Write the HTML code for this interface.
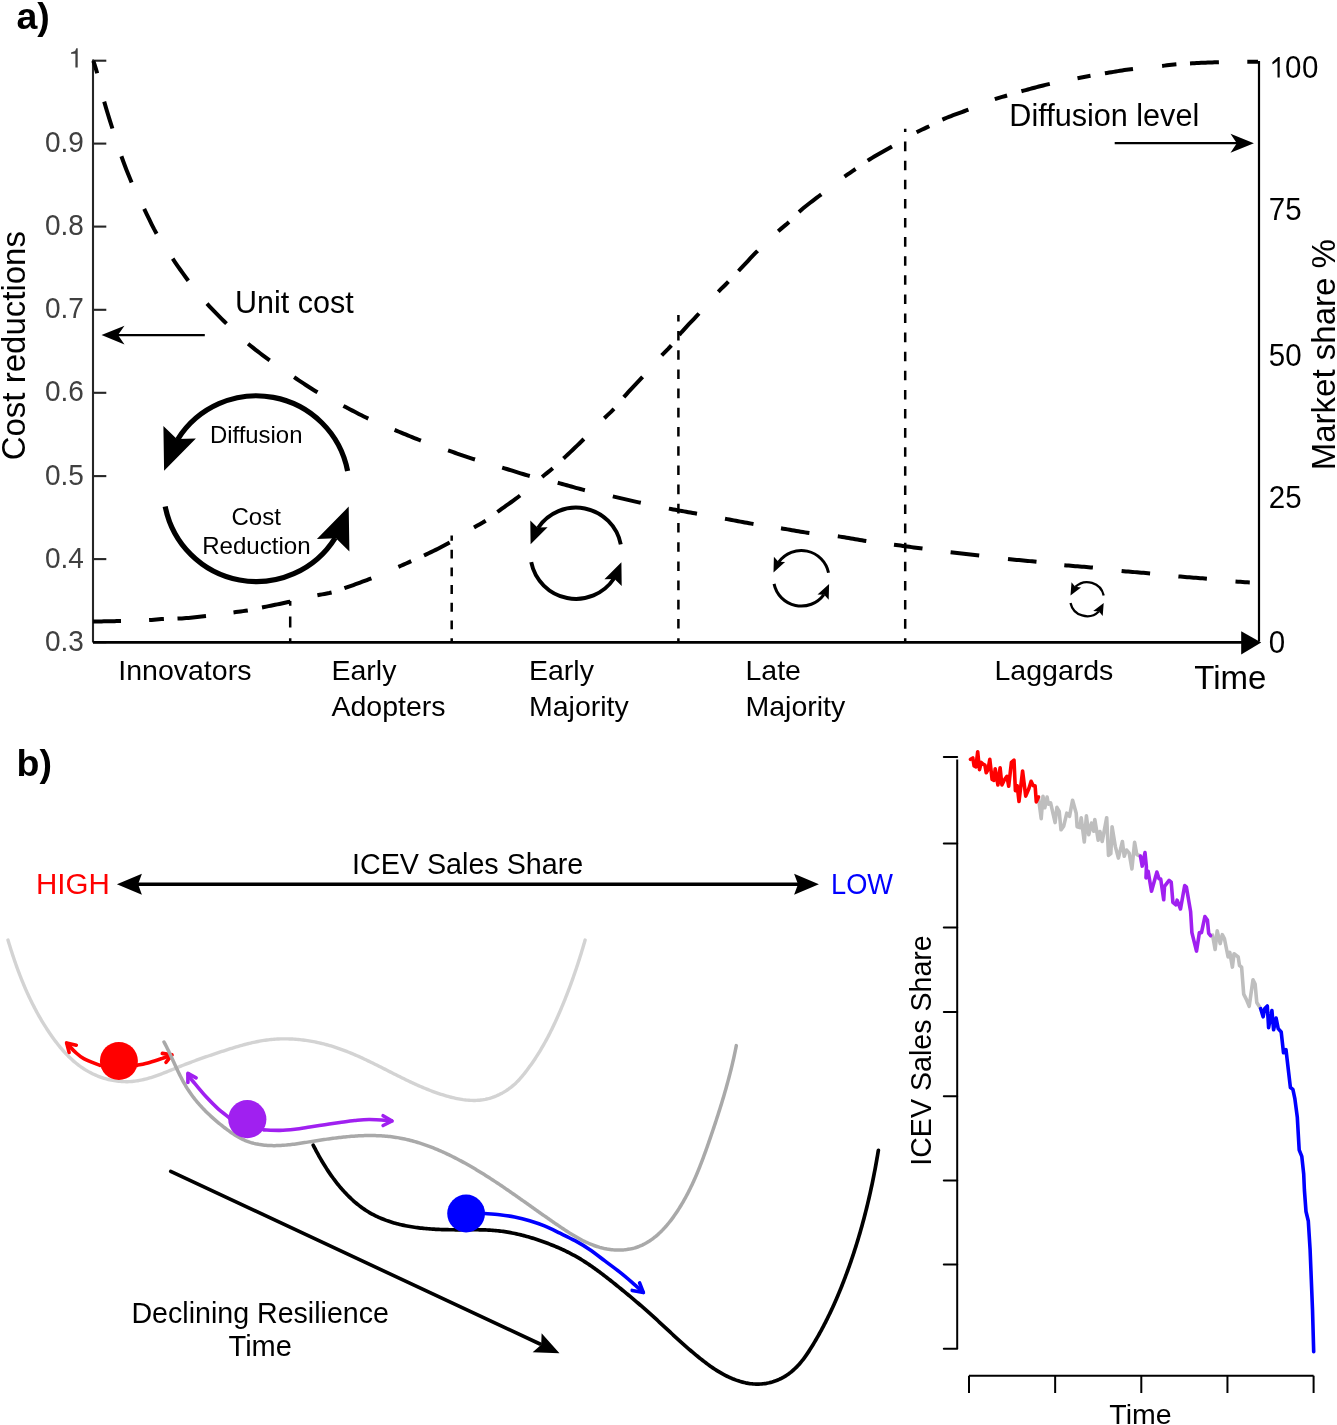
<!DOCTYPE html>
<html><head><meta charset="utf-8"><style>
html,body{margin:0;padding:0;background:#fff;}
svg{display:block;will-change:transform;}
text{font-family:"Liberation Sans",sans-serif;}
</style></head><body>
<svg width="1337" height="1425" viewBox="0 0 1337 1425">
<rect width="1337" height="1425" fill="#fff"/>
<text x="16.5" y="28.6" font-size="37.5" fill="#000" text-anchor="start" font-weight="bold" >a)</text>
<line x1="93" y1="59.6" x2="93" y2="642.4" stroke="#262626" stroke-width="2.1"/>
<line x1="93" y1="60.7" x2="106.3" y2="60.7" stroke="#262626" stroke-width="2.1"/>
<path d="M71 52.4 L75.1 51 L76.3 48.3 L77.7 48.3 L77.7 67.6 L75.4 67.6 L75.4 53.7 L71 53.7 Z" fill="#404040"/>
<line x1="93" y1="143.6" x2="106.3" y2="143.6" stroke="#262626" stroke-width="2.1"/>
<text x="0" y="0" font-size="28" fill="#404040" text-anchor="end" transform="translate(83.8 152.2) scale(1 1.07)">0.9</text>
<line x1="93" y1="226.6" x2="106.3" y2="226.6" stroke="#262626" stroke-width="2.1"/>
<text x="0" y="0" font-size="28" fill="#404040" text-anchor="end" transform="translate(83.8 235.2) scale(1 1.07)">0.8</text>
<line x1="93" y1="309.8" x2="106.3" y2="309.8" stroke="#262626" stroke-width="2.1"/>
<text x="0" y="0" font-size="28" fill="#404040" text-anchor="end" transform="translate(83.8 318.4) scale(1 1.07)">0.7</text>
<line x1="93" y1="392.8" x2="106.3" y2="392.8" stroke="#262626" stroke-width="2.1"/>
<text x="0" y="0" font-size="28" fill="#404040" text-anchor="end" transform="translate(83.8 401.4) scale(1 1.07)">0.6</text>
<line x1="93" y1="476.1" x2="106.3" y2="476.1" stroke="#262626" stroke-width="2.1"/>
<text x="0" y="0" font-size="28" fill="#404040" text-anchor="end" transform="translate(83.8 484.7) scale(1 1.07)">0.5</text>
<line x1="93" y1="559.1" x2="106.3" y2="559.1" stroke="#262626" stroke-width="2.1"/>
<text x="0" y="0" font-size="28" fill="#404040" text-anchor="end" transform="translate(83.8 567.7) scale(1 1.07)">0.4</text>
<line x1="93" y1="642.2" x2="106.3" y2="642.2" stroke="#262626" stroke-width="2.1"/>
<text x="0" y="0" font-size="28" fill="#404040" text-anchor="end" transform="translate(83.8 650.8) scale(1 1.07)">0.3</text>
<line x1="1259" y1="61" x2="1259" y2="641.5" stroke="#000" stroke-width="2.2"/>
<path d="M1272.3 62.3 L1278.3 56.9 L1279.7 56.9 L1279.7 77.5 L1277.5 77.5 L1277.5 61 L1272.6 64.6 Z" fill="#000"/>
<text x="0" y="0" font-size="29.5" fill="#000" text-anchor="start" letter-spacing="0.6" transform="translate(1284.9 77.6) scale(1 1.05)">00</text>
<text x="0" y="0" font-size="29.5" fill="#000" text-anchor="start" transform="translate(1268.8 219.9) scale(1 1.05)">75</text>
<text x="0" y="0" font-size="29.5" fill="#000" text-anchor="start" transform="translate(1268.8 366.3) scale(1 1.05)">50</text>
<text x="0" y="0" font-size="29.5" fill="#000" text-anchor="start" transform="translate(1268.8 508.2) scale(1 1.05)">25</text>
<text x="0" y="0" font-size="29.5" fill="#000" text-anchor="start" transform="translate(1268.8 652.9) scale(1 1.05)">0</text>
<line x1="93" y1="642.4" x2="1245" y2="642.4" stroke="#000" stroke-width="2.7"/>
<path d="M1241.2 631.2 L1261.2 642.4 L1241.2 654.5 Z" fill="#000"/>
<text x="1194.3" y="689" font-size="33" fill="#000" text-anchor="start" >Time</text>
<text x="118.3" y="679.8" font-size="28.5" fill="#000" text-anchor="start" >Innovators</text>
<text x="331.5" y="679.8" font-size="28.5" fill="#000" text-anchor="start" >Early</text>
<text x="331.5" y="716.3" font-size="28.5" fill="#000" text-anchor="start" >Adopters</text>
<text x="529" y="679.8" font-size="28.5" fill="#000" text-anchor="start" >Early</text>
<text x="529" y="716.3" font-size="28.5" fill="#000" text-anchor="start" >Majority</text>
<text x="745.5" y="679.8" font-size="28.5" fill="#000" text-anchor="start" >Late</text>
<text x="745.5" y="716.3" font-size="28.5" fill="#000" text-anchor="start" >Majority</text>
<text x="994.5" y="679.8" font-size="28.5" fill="#000" text-anchor="start" >Laggards</text>
<line x1="290.2" y1="642.4" x2="290.2" y2="601.1" stroke="#000" stroke-width="2.5" stroke-dasharray="10.8 10.8" stroke-dashoffset="6.6"/>
<line x1="451.7" y1="642.4" x2="451.7" y2="535.4" stroke="#000" stroke-width="2.5" stroke-dasharray="8.85 8.85" stroke-dashoffset="4.65"/>
<line x1="678.4" y1="642.4" x2="678.4" y2="315" stroke="#000" stroke-width="2.5" stroke-dasharray="9.6 9.6" stroke-dashoffset="5.4"/>
<line x1="905.2" y1="642.4" x2="905.2" y2="128.7" stroke="#000" stroke-width="2.5" stroke-dasharray="9.55 9.55" stroke-dashoffset="5.35"/>
<path d="M93.3 60.8 L94.6 64.65 L95.9 68.78 L97.2 73.2 M104.2 101.6 L106.93 111.06 L109.67 119.88 L112.4 128.5 M121.4 156.2 L123.95 163.21 L126.5 169.92 L129.05 176.32 L131.6 182.4 M144.2 208.9 L146.68 214.04 L149.16 219.2 L151.64 224.27 L154.12 229.14 L156.6 233.7 M172.7 258.7 L175.3 262.52 L177.9 266.3 L180.5 270.02 L183.1 273.67 L185.7 277.23 L188.3 280.7 M207 303.6 L209.44 306.28 L211.88 308.9 L214.31 311.45 L216.75 313.94 L219.19 316.4 L221.62 318.82 L224.06 321.22 L226.5 323.6 M248.1 343.7 L250.5 345.7 L252.9 347.65 L255.3 349.57 L257.7 351.44 L260.1 353.28 L262.5 355.09 L264.9 356.88 L267.3 358.64 L269.7 360.4 M294.1 377.2 L296.44 378.76 L298.78 380.33 L301.12 381.9 L303.46 383.46 L305.8 385 L308.14 386.53 L310.48 388.03 L312.82 389.49 L315.16 390.92 L317.5 392.3 M343.4 405.9 L345.66 407.08 L347.93 408.26 L350.19 409.45 L352.45 410.64 L354.72 411.82 L356.98 412.99 L359.25 414.16 L361.51 415.3 L363.77 416.43 L366.04 417.53 L368.3 418.6 M394.6 429.9 L396.79 430.82 L398.98 431.73 L401.18 432.65 L403.37 433.56 L405.56 434.47 L407.75 435.37 L409.94 436.26 L412.13 437.15 L414.32 438.03 L416.52 438.9 L418.71 439.76 L420.9 440.6 M448.1 450.4 L450.34 451.18 L452.58 451.96 L454.83 452.74 L457.07 453.52 L459.31 454.29 L461.55 455.06 L463.79 455.82 L466.03 456.57 L468.27 457.32 L470.52 458.06 L472.76 458.78 L475 459.5 M502.2 467.6 L504.5 468.3 L506.8 469.01 L509.1 469.73 L511.4 470.46 L513.7 471.18 L516 471.9 L518.3 472.62 L520.6 473.33 L522.9 474.03 L525.2 474.71 L527.5 475.36 L529.8 476 M557.7 482.8 L559.97 483.39 L562.23 484 L564.5 484.63 L566.77 485.26 L569.03 485.9 L571.3 486.54 L573.57 487.18 L575.83 487.81 L578.1 488.44 L580.37 489.04 L582.63 489.63 L584.9 490.2 M612.8 496.4 L614.95 496.89 L617.11 497.38 L619.26 497.88 L621.42 498.38 L623.57 498.88 L625.72 499.38 L627.88 499.88 L630.03 500.38 L632.18 500.87 L634.34 501.36 L636.49 501.85 L638.65 502.33 L640.8 502.8 M668.9 508.6 L671.06 509.01 L673.22 509.42 L675.38 509.82 L677.55 510.22 L679.71 510.61 L681.87 511 L684.03 511.39 L686.19 511.77 L688.35 512.16 L690.52 512.54 L692.68 512.93 L694.84 513.31 L697 513.7 M725 518.7 L727.19 519.1 L729.38 519.51 L731.58 519.93 L733.77 520.35 L735.96 520.76 L738.15 521.18 L740.35 521.6 L742.54 522.02 L744.73 522.43 L746.92 522.84 L749.12 523.23 L751.31 523.62 L753.5 524 M781 528.3 L783.18 528.66 L785.37 529.02 L787.55 529.4 L789.74 529.78 L791.92 530.16 L794.11 530.55 L796.29 530.93 L798.48 531.3 L800.66 531.67 L802.85 532.02 L805.03 532.36 L807.22 532.69 L809.4 533 M837.8 536.3 L839.99 536.61 L842.18 536.94 L844.38 537.29 L846.57 537.66 L848.76 538.03 L850.95 538.42 L853.15 538.8 L855.34 539.19 L857.53 539.57 L859.72 539.95 L861.92 540.32 L864.11 540.67 L866.3 541 M894 544.7 L896.19 545 L898.38 545.3 L900.58 545.6 L902.77 545.9 L904.96 546.2 L907.15 546.51 L909.35 546.81 L911.54 547.11 L913.73 547.42 L915.92 547.72 L918.12 548.01 L920.31 548.31 L922.5 548.6 M950.6 552.2 L952.8 552.46 L955 552.71 L957.2 552.96 L959.4 553.21 L961.6 553.45 L963.8 553.69 L966 553.92 L968.2 554.16 L970.4 554.4 L972.6 554.65 L974.8 554.89 L977 555.14 L979.2 555.4 M1008 559 L1010.19 559.24 L1012.38 559.46 L1014.58 559.68 L1016.77 559.89 L1018.96 560.1 L1021.15 560.3 L1023.35 560.51 L1025.54 560.71 L1027.73 560.92 L1029.92 561.13 L1032.12 561.34 L1034.31 561.57 L1036.5 561.8 M1064.3 565.2 L1066.5 565.41 L1068.7 565.61 L1070.9 565.8 L1073.1 565.98 L1075.3 566.15 L1077.5 566.32 L1079.7 566.49 L1081.9 566.66 L1084.1 566.83 L1086.3 567.01 L1088.5 567.19 L1090.7 567.39 L1092.9 567.6 M1121.6 571 L1123.79 571.21 L1125.98 571.41 L1128.18 571.6 L1130.37 571.78 L1132.56 571.96 L1134.75 572.13 L1136.95 572.3 L1139.14 572.47 L1141.33 572.65 L1143.52 572.83 L1145.72 573.01 L1147.91 573.2 L1150.1 573.4 M1178.4 576.4 L1180.59 576.6 L1182.78 576.78 L1184.98 576.96 L1187.17 577.14 L1189.36 577.31 L1191.55 577.48 L1193.75 577.64 L1195.94 577.81 L1198.13 577.98 L1200.32 578.15 L1202.52 578.33 L1204.71 578.51 L1206.9 578.7 M1235.5 581.5 L1237.88 581.67 L1240.27 581.84 L1242.65 581.99 L1245.03 582.14 L1247.42 582.27 L1249.8 582.4" fill="none" stroke="#000" stroke-width="4" stroke-linecap="butt" stroke-linejoin="round"/>
<path d="M93 621.5 L95.15 621.48 L97.31 621.45 L99.46 621.42 L101.62 621.38 L103.77 621.35 L105.92 621.31 L108.08 621.27 L110.23 621.23 L112.38 621.19 L114.54 621.14 L116.69 621.1 L118.85 621.05 L121 621 M149.1 620.1 L151.57 619.94 L154.03 619.72 L156.5 619.47 L158.97 619.23 L161.43 619.03 L163.9 618.9 M177.5 618.6 L179.69 618.51 L181.88 618.4 L184.08 618.26 L186.27 618.1 L188.46 617.91 L190.65 617.72 L192.85 617.5 L195.04 617.28 L197.23 617.05 L199.42 616.81 L201.62 616.57 L203.81 616.34 L206 616.1 M233.5 612.4 L235.88 612.08 L238.27 611.77 L240.65 611.45 L243.03 611.12 L245.42 610.78 L247.8 610.4 M262 607.5 L264.18 607.05 L266.37 606.61 L268.55 606.16 L270.74 605.72 L272.92 605.27 L275.11 604.82 L277.29 604.38 L279.48 603.92 L281.66 603.47 L283.85 603.01 L286.03 602.55 L288.22 602.08 L290.4 601.6 M317.4 595.3 L319.77 594.83 L322.13 594.39 L324.5 593.97 L326.87 593.53 L329.23 593.05 L331.6 592.5 M344.4 588.2 L346.65 587.41 L348.9 586.62 L351.15 585.83 L353.4 585.02 L355.65 584.21 L357.9 583.4 L360.15 582.57 L362.4 581.74 L364.65 580.9 L366.9 580.04 L369.15 579.18 L371.4 578.3 M398.4 566.9 L400.96 565.78 L403.52 564.64 L406.08 563.49 L408.64 562.34 L411.2 561.2 M424 555.5 L426.34 554.4 L428.67 553.28 L431.01 552.16 L433.35 551.02 L435.68 549.86 L438.02 548.69 L440.35 547.5 L442.69 546.28 L445.03 545.05 L447.36 543.79 L449.7 542.5 M474 527.5 L476.93 525.81 L479.85 524.18 L482.77 522.51 L485.7 520.7 M497.4 512 L499.67 510.34 L501.94 508.71 L504.21 507.1 L506.48 505.49 L508.75 503.87 L511.02 502.25 L513.29 500.61 L515.56 498.95 L517.83 497.25 L520.1 495.5 M542.1 477 L544.77 474.81 L547.45 472.64 L550.12 470.46 L552.8 468.2 M563.5 458.5 L565.77 456.39 L568.03 454.27 L570.3 452.13 L572.57 449.98 L574.83 447.82 L577.1 445.64 L579.37 443.44 L581.63 441.23 L583.9 439 M604.3 418.2 L607.53 415.14 L610.77 412.13 L614 408.9 M623.8 397.2 L626.15 394.55 L628.5 391.96 L630.85 389.42 L633.2 386.91 L635.55 384.4 L637.9 381.9 L640.25 379.37 L642.6 376.8 M661.7 355.4 L664.93 352.08 L668.17 348.83 L671.4 345.3 M679.2 335 L681.68 332.08 L684.15 329.3 L686.62 326.61 L689.1 323.99 L691.58 321.4 L694.05 318.81 L696.52 316.19 L699 313.5 M718.3 291.8 L720.82 289.21 L723.35 286.72 L725.88 284.24 L728.4 281.7 M738.5 271 L740.89 268.46 L743.27 265.9 L745.66 263.33 L748.05 260.77 L750.44 258.22 L752.83 255.7 L755.21 253.22 L757.6 250.8 M778.2 231.2 L780.9 228.87 L783.6 226.64 L786.3 224.39 L789 222 M799 211.9 L801.23 209.94 L803.46 208.05 L805.69 206.23 L807.92 204.47 L810.15 202.75 L812.38 201.05 L814.61 199.37 L816.84 197.7 L819.07 196.01 L821.3 194.3 M844.5 176.7 L847.27 174.73 L850.05 172.81 L852.83 170.91 L855.6 169 M867.7 160.6 L869.91 159.21 L872.12 157.85 L874.33 156.52 L876.54 155.22 L878.75 153.94 L880.95 152.68 L883.16 151.43 L885.37 150.18 L887.58 148.93 L889.79 147.67 L892 146.4 M916.6 132.3 L919.14 131.02 L921.68 129.81 L924.22 128.62 L926.76 127.42 L929.3 126.2 M942.4 119.6 L944.57 118.66 L946.73 117.76 L948.9 116.89 L951.07 116.05 L953.23 115.23 L955.4 114.43 L957.57 113.63 L959.73 112.84 L961.9 112.05 L964.07 111.25 L966.23 110.43 L968.4 109.6 M994.8 99.2 L997.26 98.4 L999.72 97.65 L1002.18 96.93 L1004.64 96.22 L1007.1 95.5 M1021.4 91.3 L1023.58 90.69 L1025.77 90.09 L1027.95 89.49 L1030.14 88.89 L1032.32 88.3 L1034.51 87.71 L1036.69 87.13 L1038.88 86.56 L1041.06 86.01 L1043.25 85.46 L1045.43 84.93 L1047.62 84.41 L1049.8 83.9 M1077.5 78.3 L1080.1 77.79 L1082.7 77.28 L1085.3 76.78 L1087.9 76.28 L1090.5 75.8 M1104.9 73.3 L1107.06 72.94 L1109.22 72.58 L1111.38 72.21 L1113.55 71.85 L1115.71 71.49 L1117.87 71.13 L1120.03 70.78 L1122.19 70.44 L1124.35 70.1 L1126.52 69.78 L1128.68 69.47 L1130.84 69.18 L1133 68.9 M1162.1 65.9 L1164.48 65.62 L1166.87 65.31 L1169.25 64.99 L1171.63 64.69 L1174.02 64.42 L1176.4 64.2 M1190 63.4 L1192.22 63.29 L1194.45 63.18 L1196.67 63.07 L1198.89 62.96 L1201.12 62.86 L1203.34 62.76 L1205.56 62.66 L1207.78 62.57 L1210.01 62.48 L1212.23 62.4 L1214.45 62.33 L1216.68 62.26 L1218.9 62.2 M1247.3 61.7 L1249.97 61.7 L1252.65 61.7 L1255.33 61.7 L1258 61.7" fill="none" stroke="#000" stroke-width="4" stroke-linecap="butt" stroke-linejoin="round"/>
<text x="235" y="313.3" font-size="30.5" fill="#000" text-anchor="start" >Unit cost</text>
<line x1="204.8" y1="335.1" x2="115" y2="335.1" stroke="#000" stroke-width="2.2"/>
<path d="M101.5 335.1 L124.5 325.7 L118 335.1 L124.5 344.5 Z" fill="#000"/>
<text x="1009.3" y="125.9" font-size="30.6" fill="#000" text-anchor="start" >Diffusion level</text>
<line x1="1114.7" y1="143.2" x2="1240" y2="143.2" stroke="#000" stroke-width="2.2"/>
<path d="M1253.9 143.2 L1230.5 152.7 L1236.8 143.2 L1230.5 133.7 Z" fill="#000"/>
<g><path d="M347.6 471.01 A92.9 92.9 0 0 0 177.57 439.55" fill="none" stroke="#000" stroke-width="5.2"/><path d="M164.1 470.8 L163.4 425.9 L176.85 439.11 L195.9 438.4 Z" fill="#000"/></g><g transform="rotate(180 256.4 488.7)"><path d="M347.6 471.01 A92.9 92.9 0 0 0 177.57 439.55" fill="none" stroke="#000" stroke-width="5.2"/><path d="M164.1 470.8 L163.4 425.9 L176.85 439.11 L195.9 438.4 Z" fill="#000"/></g>
<text x="256.2" y="442.8" font-size="23.9" fill="#000" text-anchor="middle" >Diffusion</text>
<text x="256.2" y="525.3" font-size="24" fill="#000" text-anchor="middle" >Cost</text>
<text x="256.4" y="553.5" font-size="24.1" fill="#000" text-anchor="middle" >Reduction</text>
<g><path d="M620.77 544.33 A45.65 45.65 0 0 0 538 527.96" fill="none" stroke="#000" stroke-width="3.9"/><path d="M530.6 544.2 L530.3 520.6 L537.45 527.6 L547.6 527.3 Z" fill="#000"/></g><g transform="rotate(180 576 553.25)"><path d="M620.77 544.33 A45.65 45.65 0 0 0 538 527.96" fill="none" stroke="#000" stroke-width="3.9"/><path d="M530.6 544.2 L530.3 520.6 L537.45 527.6 L547.6 527.3 Z" fill="#000"/></g>
<g><path d="M828.53 572.72 A27.8 27.8 0 0 0 778.74 562.05" fill="none" stroke="#000" stroke-width="3"/><path d="M773.5 572.6 L773.9 556.8 L778.42 561.82 L785.1 562.1 Z" fill="#000"/></g><g transform="rotate(180 801.3 578.3)"><path d="M828.53 572.72 A27.8 27.8 0 0 0 778.74 562.05" fill="none" stroke="#000" stroke-width="3"/><path d="M773.5 572.6 L773.9 556.8 L778.42 561.82 L785.1 562.1 Z" fill="#000"/></g>
<g><path d="M1103.69 595.5 A17 17 0 0 0 1075.33 586.93" fill="none" stroke="#000" stroke-width="2.3"/><path d="M1070.5 595.5 L1071.5 582.3 L1075.21 586.81 L1081 587.5 Z" fill="#000"/></g><g transform="rotate(180 1087.1 599.2)"><path d="M1103.69 595.5 A17 17 0 0 0 1075.33 586.93" fill="none" stroke="#000" stroke-width="2.3"/><path d="M1070.5 595.5 L1071.5 582.3 L1075.21 586.81 L1081 587.5 Z" fill="#000"/></g>
<text x="0" y="0" font-size="33" fill="#000" text-anchor="middle" transform="translate(24.5 345.7) rotate(-90)">Cost reductions</text>
<text x="0" y="0" font-size="33" fill="#000" text-anchor="middle" transform="translate(1335 354.7) rotate(-90)">Market share %</text>
<text x="16.5" y="775.9" font-size="37.5" fill="#000" text-anchor="start" font-weight="bold" >b)</text>
<text x="36" y="894.1" font-size="29.5" fill="#ff0000" text-anchor="start" >HIGH</text>
<text x="831" y="894" font-size="29.5" fill="#0000ff" text-anchor="start" textLength="62" lengthAdjust="spacingAndGlyphs">LOW</text>
<text x="352" y="873.5" font-size="28.7" fill="#000" text-anchor="start" >ICEV Sales Share</text>
<line x1="136" y1="884.2" x2="800" y2="884.2" stroke="#000" stroke-width="3.4"/>
<path d="M116.9 884.3 L141.9 873.85 L138.1 884.3 L141.9 894.75 Z" fill="#000"/>
<path d="M818.9 884.2 L794.1 894.7 L798 884.2 L794.1 873.7 Z" fill="#000"/>
<path d="M7.97 940.01 L8.41 941.46 L8.85 942.92 L9.29 944.37 L9.74 945.82 L10.19 947.26 L10.65 948.71 L11.11 950.15 L11.57 951.59 L12.03 953.03 L12.51 954.47 L12.98 955.9 L13.46 957.33 L13.94 958.76 L14.43 960.19 L14.92 961.62 L15.42 963.04 L15.92 964.46 L16.42 965.88 L16.94 967.3 L17.45 968.71 L17.97 970.12 L18.5 971.53 L19.03 972.94 L19.56 974.34 L20.1 975.74 L20.65 977.14 L21.2 978.53 L21.76 979.93 L22.32 981.32 L22.89 982.7 L23.46 984.09 L24.05 985.47 L24.63 986.85 L25.22 988.22 L25.82 989.6 L26.43 990.97 L27.04 992.33 L27.65 993.7 L28.28 995.06 L28.91 996.41 L29.55 997.77 L30.19 999.12 L30.84 1000.47 L31.5 1001.81 L32.16 1003.15 L32.83 1004.49 L33.51 1005.82 L34.2 1007.15 L34.89 1008.48 L35.59 1009.8 L36.3 1011.12 L37.01 1012.44 L37.73 1013.75 L38.47 1015.06 L39.2 1016.36 L39.95 1017.66 L40.7 1018.96 L41.47 1020.26 L42.24 1021.55 L43.02 1022.83 L43.8 1024.11 L44.6 1025.39 L45.4 1026.66 L46.21 1027.93 L47.04 1029.2 L47.87 1030.46 L48.7 1031.72 L49.55 1032.97 L50.41 1034.22 L51.27 1035.47 L52.15 1036.71 L53.03 1037.94 L53.93 1039.17 L54.83 1040.39 L55.74 1041.61 L56.67 1042.81 L57.6 1044.01 L58.55 1045.2 L59.51 1046.38 L60.47 1047.56 L61.45 1048.72 L62.44 1049.86 L63.45 1051 L64.46 1052.13 L65.49 1053.24 L66.53 1054.34 L67.58 1055.42 L68.64 1056.49 L69.72 1057.55 L70.81 1058.59 L71.91 1059.61 L73.03 1060.61 L74.16 1061.6 L75.31 1062.57 L76.47 1063.52 L77.64 1064.45 L78.83 1065.36 L80.04 1066.26 L81.26 1067.13 L82.49 1067.97 L83.74 1068.8 L85.01 1069.6 L86.29 1070.38 L87.59 1071.14 L88.9 1071.87 L90.22 1072.58 L91.56 1073.27 L92.91 1073.93 L94.27 1074.56 L95.64 1075.17 L97.03 1075.76 L98.42 1076.32 L99.82 1076.85 L101.24 1077.36 L102.66 1077.84 L104.09 1078.29 L105.53 1078.72 L106.97 1079.12 L108.42 1079.49 L109.88 1079.83 L111.34 1080.15 L112.8 1080.43 L114.27 1080.69 L115.75 1080.92 L117.23 1081.12 L118.71 1081.29 L120.19 1081.43 L121.67 1081.54 L123.15 1081.62 L124.64 1081.67 L126.12 1081.69 L127.61 1081.68 L129.09 1081.63 L130.57 1081.56 L132.05 1081.45 L133.52 1081.31 L134.99 1081.14 L136.46 1080.94 L137.93 1080.71 L139.39 1080.45 L140.85 1080.16 L142.31 1079.85 L143.76 1079.52 L145.22 1079.16 L146.67 1078.79 L148.12 1078.39 L149.56 1077.97 L151.01 1077.53 L152.45 1077.08 L153.89 1076.61 L155.33 1076.12 L156.76 1075.62 L158.2 1075.11 L159.63 1074.58 L161.06 1074.05 L162.49 1073.5 L163.91 1072.95 L165.34 1072.39 L166.76 1071.83 L168.19 1071.26 L169.61 1070.68 L171.03 1070.11 L172.44 1069.53 L173.86 1068.95 L175.27 1068.37 L176.69 1067.8 L178.1 1067.22 L179.51 1066.65 L180.93 1066.09 L182.34 1065.53 L183.74 1064.98 L185.15 1064.43 L186.56 1063.89 L187.97 1063.35 L189.38 1062.82 L190.78 1062.29 L192.19 1061.77 L193.59 1061.25 L195 1060.73 L196.41 1060.22 L197.81 1059.71 L199.22 1059.21 L200.63 1058.71 L202.03 1058.21 L203.44 1057.71 L204.85 1057.22 L206.26 1056.73 L207.67 1056.24 L209.08 1055.76 L210.49 1055.28 L211.9 1054.8 L213.32 1054.32 L214.73 1053.84 L216.15 1053.37 L217.57 1052.89 L218.99 1052.42 L220.41 1051.95 L221.83 1051.48 L223.26 1051.01 L224.68 1050.55 L226.11 1050.08 L227.54 1049.62 L228.97 1049.17 L230.41 1048.71 L231.84 1048.26 L233.28 1047.82 L234.72 1047.38 L236.16 1046.95 L237.6 1046.52 L239.04 1046.1 L240.49 1045.69 L241.94 1045.28 L243.39 1044.89 L244.84 1044.5 L246.3 1044.12 L247.75 1043.75 L249.21 1043.39 L250.67 1043.04 L252.14 1042.7 L253.6 1042.37 L255.07 1042.06 L256.54 1041.75 L258.01 1041.46 L259.48 1041.18 L260.95 1040.92 L262.43 1040.67 L263.91 1040.43 L265.39 1040.21 L266.88 1040.01 L268.36 1039.82 L269.85 1039.65 L271.34 1039.49 L272.84 1039.35 L274.33 1039.23 L275.83 1039.13 L277.33 1039.04 L278.83 1038.97 L280.33 1038.91 L281.83 1038.88 L283.34 1038.86 L284.84 1038.85 L286.35 1038.86 L287.86 1038.89 L289.37 1038.93 L290.87 1038.99 L292.38 1039.07 L293.89 1039.16 L295.4 1039.26 L296.9 1039.38 L298.41 1039.52 L299.91 1039.67 L301.42 1039.83 L302.92 1040.01 L304.43 1040.21 L305.93 1040.41 L307.43 1040.64 L308.92 1040.87 L310.42 1041.12 L311.91 1041.39 L313.4 1041.66 L314.89 1041.95 L316.38 1042.26 L317.86 1042.57 L319.34 1042.9 L320.82 1043.24 L322.29 1043.6 L323.76 1043.97 L325.23 1044.35 L326.69 1044.74 L328.15 1045.14 L329.6 1045.56 L331.05 1045.99 L332.5 1046.43 L333.94 1046.88 L335.37 1047.34 L336.8 1047.81 L338.23 1048.3 L339.65 1048.79 L341.06 1049.3 L342.48 1049.81 L343.88 1050.34 L345.29 1050.87 L346.69 1051.41 L348.08 1051.97 L349.47 1052.53 L350.86 1053.09 L352.25 1053.67 L353.63 1054.26 L355.01 1054.85 L356.38 1055.45 L357.75 1056.05 L359.12 1056.66 L360.49 1057.28 L361.85 1057.91 L363.21 1058.54 L364.57 1059.17 L365.93 1059.81 L367.28 1060.46 L368.63 1061.1 L369.98 1061.76 L371.33 1062.41 L372.68 1063.08 L374.03 1063.74 L375.37 1064.41 L376.71 1065.08 L378.06 1065.75 L379.4 1066.42 L380.74 1067.1 L382.08 1067.78 L383.42 1068.46 L384.76 1069.14 L386.09 1069.82 L387.43 1070.5 L388.77 1071.18 L390.11 1071.86 L391.45 1072.54 L392.79 1073.22 L394.13 1073.9 L395.47 1074.58 L396.81 1075.25 L398.15 1075.93 L399.5 1076.6 L400.84 1077.27 L402.19 1077.93 L403.53 1078.6 L404.88 1079.26 L406.23 1079.91 L407.59 1080.57 L408.94 1081.21 L410.3 1081.86 L411.65 1082.5 L413.02 1083.13 L414.38 1083.76 L415.75 1084.38 L417.11 1085 L418.49 1085.61 L419.86 1086.21 L421.24 1086.81 L422.62 1087.4 L424 1087.98 L425.39 1088.55 L426.78 1089.12 L428.18 1089.68 L429.58 1090.23 L430.98 1090.77 L432.39 1091.3 L433.8 1091.82 L435.22 1092.33 L436.64 1092.83 L438.06 1093.33 L439.49 1093.81 L440.93 1094.28 L442.37 1094.74 L443.82 1095.18 L445.27 1095.62 L446.72 1096.04 L448.19 1096.45 L449.65 1096.85 L451.12 1097.23 L452.6 1097.6 L454.08 1097.95 L455.57 1098.29 L457.05 1098.6 L458.54 1098.89 L460.03 1099.16 L461.53 1099.41 L463.02 1099.64 L464.52 1099.83 L466.01 1100.01 L467.51 1100.15 L469.01 1100.27 L470.5 1100.36 L471.99 1100.41 L473.48 1100.44 L474.97 1100.43 L476.46 1100.38 L477.94 1100.3 L479.42 1100.19 L480.89 1100.03 L482.37 1099.84 L483.83 1099.6 L485.29 1099.33 L486.74 1099.01 L488.19 1098.66 L489.63 1098.27 L491.06 1097.84 L492.48 1097.37 L493.88 1096.87 L495.28 1096.33 L496.67 1095.76 L498.04 1095.15 L499.4 1094.51 L500.74 1093.83 L502.07 1093.13 L503.39 1092.39 L504.68 1091.62 L505.96 1090.82 L507.22 1089.99 L508.47 1089.13 L509.69 1088.24 L510.89 1087.33 L512.07 1086.39 L513.22 1085.42 L514.36 1084.42 L515.47 1083.41 L516.55 1082.36 L517.62 1081.3 L518.66 1080.21 L519.68 1079.1 L520.68 1077.98 L521.67 1076.84 L522.63 1075.69 L523.59 1074.52 L524.53 1073.34 L525.46 1072.15 L526.38 1070.96 L527.29 1069.75 L528.19 1068.55 L529.09 1067.33 L529.97 1066.11 L530.85 1064.89 L531.72 1063.66 L532.58 1062.42 L533.43 1061.18 L534.27 1059.93 L535.11 1058.68 L535.94 1057.42 L536.75 1056.16 L537.56 1054.89 L538.36 1053.62 L539.16 1052.35 L539.94 1051.07 L540.71 1049.78 L541.48 1048.49 L542.24 1047.19 L542.99 1045.89 L543.73 1044.59 L544.47 1043.28 L545.2 1041.97 L545.92 1040.66 L546.63 1039.34 L547.34 1038.01 L548.04 1036.69 L548.73 1035.35 L549.42 1034.02 L550.1 1032.68 L550.77 1031.34 L551.44 1030 L552.1 1028.65 L552.75 1027.3 L553.4 1025.94 L554.05 1024.59 L554.68 1023.23 L555.32 1021.87 L555.94 1020.5 L556.57 1019.13 L557.18 1017.76 L557.79 1016.39 L558.4 1015.02 L559 1013.64 L559.6 1012.26 L560.2 1010.88 L560.79 1009.5 L561.37 1008.11 L561.95 1006.72 L562.53 1005.33 L563.1 1003.94 L563.67 1002.55 L564.24 1001.16 L564.8 999.76 L565.36 998.37 L565.91 996.97 L566.46 995.57 L567.01 994.17 L567.55 992.76 L568.09 991.36 L568.63 989.95 L569.16 988.54 L569.69 987.13 L570.21 985.72 L570.73 984.31 L571.25 982.9 L571.76 981.48 L572.27 980.07 L572.78 978.65 L573.28 977.23 L573.78 975.81 L574.27 974.39 L574.77 972.97 L575.25 971.55 L575.74 970.12 L576.22 968.7 L576.7 967.27 L577.17 965.85 L577.64 964.42 L578.11 962.99 L578.57 961.56 L579.03 960.13 L579.49 958.7 L579.94 957.26 L580.39 955.83 L580.84 954.4 L581.28 952.96 L581.72 951.53 L582.16 950.09 L582.59 948.65 L583.02 947.22 L583.45 945.78 L583.87 944.34 L584.29 942.9 L584.71 941.46 L585.12 940.02" fill="none" stroke="#d3d3d3" stroke-width="3.4" stroke-linecap="round" stroke-linejoin="round"/>
<path d="M313.25 1145.24 L313.93 1146.56 L314.62 1147.89 L315.31 1149.21 L316.01 1150.53 L316.71 1151.85 L317.42 1153.16 L318.14 1154.47 L318.86 1155.78 L319.6 1157.08 L320.34 1158.38 L321.09 1159.67 L321.84 1160.97 L322.61 1162.25 L323.38 1163.53 L324.16 1164.81 L324.95 1166.09 L325.75 1167.35 L326.56 1168.62 L327.37 1169.87 L328.2 1171.12 L329.04 1172.37 L329.88 1173.61 L330.74 1174.84 L331.61 1176.07 L332.49 1177.29 L333.38 1178.51 L334.28 1179.71 L335.19 1180.92 L336.11 1182.11 L337.04 1183.29 L337.99 1184.47 L338.95 1185.64 L339.92 1186.81 L340.9 1187.96 L341.9 1189.11 L342.91 1190.24 L343.93 1191.37 L344.96 1192.49 L346.01 1193.6 L347.07 1194.7 L348.14 1195.78 L349.22 1196.86 L350.32 1197.92 L351.43 1198.97 L352.55 1200 L353.68 1201.02 L354.82 1202.02 L355.98 1203 L357.15 1203.97 L358.32 1204.92 L359.51 1205.85 L360.72 1206.76 L361.93 1207.65 L363.15 1208.52 L364.39 1209.37 L365.63 1210.2 L366.89 1211.01 L368.15 1211.79 L369.43 1212.55 L370.72 1213.29 L372.02 1214.01 L373.32 1214.71 L374.64 1215.39 L375.96 1216.05 L377.3 1216.69 L378.64 1217.31 L379.99 1217.9 L381.35 1218.49 L382.72 1219.05 L384.1 1219.59 L385.48 1220.11 L386.87 1220.62 L388.27 1221.11 L389.68 1221.58 L391.09 1222.04 L392.51 1222.48 L393.94 1222.9 L395.37 1223.31 L396.81 1223.7 L398.25 1224.07 L399.7 1224.43 L401.16 1224.78 L402.62 1225.11 L404.08 1225.42 L405.56 1225.73 L407.03 1226.02 L408.51 1226.29 L410 1226.55 L411.48 1226.8 L412.98 1227.04 L414.47 1227.26 L415.97 1227.47 L417.47 1227.68 L418.98 1227.87 L420.49 1228.04 L422 1228.21 L423.51 1228.37 L425.03 1228.52 L426.54 1228.65 L428.06 1228.78 L429.58 1228.9 L431.11 1229.01 L432.63 1229.11 L434.15 1229.2 L435.68 1229.29 L437.2 1229.36 L438.73 1229.43 L440.25 1229.49 L441.78 1229.55 L443.3 1229.6 L444.83 1229.64 L446.35 1229.67 L447.87 1229.7 L449.4 1229.73 L450.92 1229.75 L452.43 1229.76 L453.95 1229.77 L455.47 1229.78 L456.98 1229.78 L458.49 1229.78 L460 1229.78 L461.5 1229.77 L463.01 1229.77 L464.51 1229.76 L466.01 1229.75 L467.51 1229.74 L469.01 1229.74 L470.51 1229.74 L472 1229.73 L473.5 1229.74 L474.99 1229.74 L476.48 1229.75 L477.97 1229.77 L479.46 1229.79 L480.95 1229.82 L482.43 1229.86 L483.92 1229.9 L485.4 1229.95 L486.89 1230.01 L488.37 1230.08 L489.85 1230.16 L491.33 1230.25 L492.81 1230.36 L494.29 1230.47 L495.77 1230.6 L497.25 1230.74 L498.73 1230.89 L500.21 1231.07 L501.69 1231.25 L503.16 1231.45 L504.64 1231.67 L506.12 1231.89 L507.59 1232.14 L509.07 1232.39 L510.54 1232.66 L512.02 1232.95 L513.49 1233.24 L514.96 1233.55 L516.43 1233.87 L517.9 1234.2 L519.36 1234.55 L520.83 1234.9 L522.29 1235.27 L523.75 1235.65 L525.21 1236.04 L526.67 1236.44 L528.13 1236.84 L529.58 1237.26 L531.03 1237.69 L532.48 1238.13 L533.93 1238.58 L535.37 1239.03 L536.81 1239.5 L538.25 1239.97 L539.68 1240.46 L541.12 1240.95 L542.55 1241.45 L543.97 1241.96 L545.39 1242.49 L546.81 1243.02 L548.23 1243.55 L549.64 1244.1 L551.05 1244.66 L552.45 1245.22 L553.85 1245.8 L555.24 1246.38 L556.63 1246.97 L558.02 1247.57 L559.4 1248.18 L560.77 1248.79 L562.14 1249.42 L563.51 1250.05 L564.87 1250.69 L566.23 1251.35 L567.57 1252.01 L568.92 1252.68 L570.25 1253.36 L571.58 1254.05 L572.91 1254.76 L574.22 1255.47 L575.53 1256.2 L576.83 1256.93 L578.13 1257.68 L579.42 1258.44 L580.7 1259.21 L581.97 1259.99 L583.24 1260.78 L584.51 1261.58 L585.76 1262.39 L587.01 1263.21 L588.26 1264.03 L589.5 1264.87 L590.74 1265.71 L591.97 1266.56 L593.19 1267.42 L594.41 1268.28 L595.63 1269.16 L596.84 1270.03 L598.05 1270.92 L599.26 1271.81 L600.46 1272.71 L601.66 1273.61 L602.85 1274.52 L604.05 1275.43 L605.24 1276.35 L606.42 1277.27 L607.61 1278.19 L608.79 1279.12 L609.97 1280.05 L611.15 1280.99 L612.33 1281.92 L613.5 1282.86 L614.68 1283.8 L615.85 1284.75 L617.02 1285.69 L618.2 1286.64 L619.37 1287.59 L620.54 1288.54 L621.7 1289.49 L622.87 1290.45 L624.04 1291.4 L625.2 1292.36 L626.36 1293.32 L627.53 1294.28 L628.69 1295.24 L629.84 1296.21 L631 1297.17 L632.16 1298.14 L633.31 1299.11 L634.46 1300.09 L635.61 1301.06 L636.76 1302.04 L637.9 1303.02 L639.05 1304 L640.19 1304.98 L641.33 1305.97 L642.46 1306.96 L643.6 1307.95 L644.73 1308.94 L645.86 1309.93 L646.99 1310.93 L648.11 1311.93 L649.24 1312.93 L650.36 1313.93 L651.47 1314.94 L652.59 1315.94 L653.7 1316.95 L654.81 1317.97 L655.92 1318.98 L657.03 1319.99 L658.13 1321.01 L659.24 1322.03 L660.34 1323.04 L661.44 1324.06 L662.54 1325.08 L663.64 1326.1 L664.74 1327.12 L665.84 1328.14 L666.94 1329.16 L668.04 1330.18 L669.14 1331.2 L670.24 1332.22 L671.34 1333.24 L672.44 1334.25 L673.54 1335.27 L674.64 1336.28 L675.75 1337.3 L676.85 1338.31 L677.96 1339.32 L679.07 1340.33 L680.18 1341.33 L681.29 1342.33 L682.4 1343.34 L683.52 1344.33 L684.64 1345.33 L685.76 1346.32 L686.89 1347.31 L688.02 1348.3 L689.15 1349.28 L690.29 1350.26 L691.43 1351.24 L692.57 1352.21 L693.72 1353.17 L694.87 1354.14 L696.02 1355.1 L697.18 1356.05 L698.35 1357 L699.52 1357.94 L700.69 1358.88 L701.87 1359.82 L703.06 1360.74 L704.25 1361.66 L705.45 1362.58 L706.65 1363.48 L707.86 1364.38 L709.08 1365.26 L710.31 1366.14 L711.54 1367.01 L712.78 1367.86 L714.03 1368.7 L715.29 1369.53 L716.56 1370.34 L717.84 1371.14 L719.12 1371.92 L720.42 1372.69 L721.73 1373.44 L723.04 1374.18 L724.37 1374.89 L725.71 1375.59 L727.06 1376.26 L728.43 1376.92 L729.8 1377.56 L731.19 1378.17 L732.58 1378.76 L733.99 1379.32 L735.41 1379.86 L736.83 1380.37 L738.26 1380.85 L739.7 1381.31 L741.15 1381.73 L742.6 1382.12 L744.06 1382.48 L745.53 1382.81 L747 1383.1 L748.48 1383.36 L749.96 1383.58 L751.44 1383.76 L752.92 1383.91 L754.41 1384.01 L755.9 1384.07 L757.39 1384.09 L758.89 1384.07 L760.38 1384.01 L761.87 1383.9 L763.35 1383.75 L764.84 1383.55 L766.31 1383.32 L767.79 1383.04 L769.25 1382.73 L770.7 1382.37 L772.14 1381.97 L773.58 1381.53 L774.99 1381.05 L776.4 1380.53 L777.79 1379.97 L779.16 1379.38 L780.51 1378.74 L781.85 1378.07 L783.16 1377.36 L784.46 1376.61 L785.73 1375.83 L786.99 1375.01 L788.22 1374.17 L789.43 1373.29 L790.62 1372.38 L791.78 1371.44 L792.92 1370.47 L794.04 1369.48 L795.13 1368.46 L796.2 1367.42 L797.25 1366.35 L798.27 1365.26 L799.27 1364.15 L800.25 1363.02 L801.21 1361.87 L802.16 1360.7 L803.08 1359.52 L803.99 1358.32 L804.88 1357.11 L805.76 1355.88 L806.63 1354.64 L807.48 1353.39 L808.32 1352.13 L809.14 1350.87 L809.96 1349.59 L810.77 1348.31 L811.57 1347.03 L812.37 1345.74 L813.16 1344.45 L813.94 1343.15 L814.71 1341.86 L815.48 1340.56 L816.24 1339.25 L817 1337.94 L817.75 1336.64 L818.49 1335.32 L819.23 1334.01 L819.96 1332.69 L820.68 1331.37 L821.4 1330.05 L822.12 1328.72 L822.82 1327.39 L823.52 1326.06 L824.22 1324.72 L824.91 1323.39 L825.59 1322.05 L826.27 1320.71 L826.95 1319.36 L827.61 1318.01 L828.28 1316.66 L828.93 1315.31 L829.59 1313.96 L830.23 1312.6 L830.87 1311.24 L831.51 1309.88 L832.14 1308.52 L832.77 1307.15 L833.39 1305.79 L834.01 1304.42 L834.62 1303.05 L835.23 1301.67 L835.83 1300.3 L836.43 1298.92 L837.02 1297.54 L837.61 1296.16 L838.19 1294.78 L838.77 1293.39 L839.35 1292 L839.92 1290.62 L840.49 1289.23 L841.05 1287.83 L841.61 1286.44 L842.17 1285.04 L842.72 1283.65 L843.27 1282.25 L843.81 1280.85 L844.35 1279.45 L844.88 1278.05 L845.42 1276.64 L845.94 1275.23 L846.47 1273.83 L846.99 1272.42 L847.51 1271.01 L848.02 1269.6 L848.53 1268.18 L849.03 1266.77 L849.54 1265.35 L850.03 1263.94 L850.53 1262.52 L851.02 1261.1 L851.51 1259.68 L851.99 1258.25 L852.47 1256.83 L852.95 1255.41 L853.42 1253.98 L853.89 1252.55 L854.35 1251.12 L854.82 1249.69 L855.27 1248.26 L855.73 1246.83 L856.18 1245.4 L856.63 1243.96 L857.07 1242.52 L857.51 1241.09 L857.95 1239.65 L858.38 1238.21 L858.81 1236.77 L859.24 1235.33 L859.66 1233.88 L860.08 1232.44 L860.49 1231 L860.91 1229.55 L861.32 1228.1 L861.72 1226.65 L862.12 1225.21 L862.52 1223.76 L862.92 1222.3 L863.31 1220.85 L863.7 1219.4 L864.08 1217.95 L864.47 1216.49 L864.84 1215.03 L865.22 1213.58 L865.59 1212.12 L865.96 1210.66 L866.33 1209.2 L866.69 1207.74 L867.05 1206.28 L867.4 1204.82 L867.75 1203.36 L868.1 1201.89 L868.45 1200.43 L868.79 1198.97 L869.13 1197.5 L869.47 1196.03 L869.8 1194.57 L870.13 1193.1 L870.46 1191.63 L870.78 1190.16 L871.1 1188.69 L871.42 1187.22 L871.73 1185.75 L872.05 1184.28 L872.35 1182.8 L872.66 1181.33 L872.96 1179.86 L873.26 1178.38 L873.56 1176.91 L873.85 1175.43 L874.14 1173.96 L874.43 1172.48 L874.71 1171 L874.99 1169.53 L875.27 1168.05 L875.54 1166.57 L875.81 1165.09 L876.08 1163.61 L876.35 1162.13 L876.61 1160.65 L876.87 1159.17 L877.13 1157.69 L877.39 1156.21 L877.64 1154.72 L877.89 1153.24 L878.13 1151.76 L878.38 1150.28" fill="none" stroke="#000" stroke-width="3.7" stroke-linecap="round" stroke-linejoin="round"/>
<line x1="170.7" y1="1171.4" x2="540" y2="1344" stroke="#000" stroke-width="3.6" stroke-linecap="round"/>
<path d="M559.5 1353.2 L532.64 1352.34 L541.2 1344.64 L541.62 1333.14 Z" fill="#000"/>
<text x="260.2" y="1322.8" font-size="28.6" fill="#000" text-anchor="middle" >Declining Resilience</text>
<text x="260.2" y="1356.4" font-size="29" fill="#000" text-anchor="middle" >Time</text>
<path d="M100 1065.4 C97.3 1064.27 88 1060.88 83.8 1058.6 C79.6 1056.32 77.57 1054.2 74.8 1051.7 C72.03 1049.2 68.47 1044.95 67.2 1043.6" fill="none" stroke="#ff0000" stroke-width="3.6" stroke-linecap="round"/>
<path d="M76.3 1045.2 L66.6 1042.9 L69.1 1052.4" fill="none" stroke="#ff0000" stroke-width="3.6" stroke-linecap="round" stroke-linejoin="round"/>
<path d="M137 1065.4 C139.1 1064.9 145.5 1063.53 149.6 1062.4 C153.7 1061.27 157.97 1059.82 161.6 1058.6 C165.23 1057.38 169.77 1055.68 171.4 1055.1" fill="none" stroke="#ff0000" stroke-width="3.6" stroke-linecap="round"/>
<path d="M162.3 1053.4 L172 1054.9 L166 1062.4" fill="none" stroke="#ff0000" stroke-width="3.6" stroke-linecap="round" stroke-linejoin="round"/>
<circle cx="118.9" cy="1061" r="19" fill="#ff0000"/>
<path d="M164.02 1042.01 L164.72 1043.32 L165.42 1044.64 L166.1 1045.97 L166.77 1047.3 L167.43 1048.65 L168.09 1049.99 L168.74 1051.35 L169.39 1052.71 L170.03 1054.07 L170.67 1055.43 L171.3 1056.8 L171.93 1058.17 L172.56 1059.55 L173.19 1060.92 L173.82 1062.3 L174.45 1063.67 L175.08 1065.05 L175.71 1066.42 L176.35 1067.8 L176.99 1069.17 L177.64 1070.53 L178.29 1071.9 L178.95 1073.26 L179.61 1074.62 L180.29 1075.97 L180.97 1077.31 L181.66 1078.65 L182.37 1079.98 L183.08 1081.31 L183.81 1082.62 L184.54 1083.93 L185.3 1085.23 L186.06 1086.52 L186.85 1087.8 L187.65 1089.07 L188.46 1090.32 L189.29 1091.57 L190.14 1092.8 L191 1094.03 L191.88 1095.24 L192.77 1096.44 L193.68 1097.64 L194.6 1098.82 L195.53 1099.99 L196.48 1101.15 L197.44 1102.3 L198.42 1103.44 L199.41 1104.57 L200.41 1105.69 L201.42 1106.8 L202.44 1107.9 L203.48 1108.99 L204.53 1110.08 L205.58 1111.15 L206.65 1112.21 L207.73 1113.26 L208.82 1114.31 L209.92 1115.34 L211.03 1116.37 L212.15 1117.38 L213.28 1118.39 L214.41 1119.39 L215.56 1120.38 L216.71 1121.36 L217.87 1122.34 L219.04 1123.3 L220.21 1124.26 L221.39 1125.2 L222.58 1126.14 L223.78 1127.08 L224.98 1128 L226.19 1128.91 L227.4 1129.82 L228.62 1130.71 L229.85 1131.59 L231.09 1132.45 L232.33 1133.3 L233.59 1134.13 L234.86 1134.94 L236.13 1135.73 L237.42 1136.5 L238.72 1137.24 L240.04 1137.96 L241.36 1138.65 L242.7 1139.31 L244.06 1139.94 L245.42 1140.54 L246.81 1141.11 L248.21 1141.64 L249.62 1142.13 L251.06 1142.59 L252.51 1143.01 L253.97 1143.4 L255.44 1143.75 L256.93 1144.06 L258.42 1144.34 L259.92 1144.6 L261.43 1144.82 L262.93 1145.01 L264.44 1145.17 L265.94 1145.31 L267.45 1145.43 L268.95 1145.52 L270.45 1145.58 L271.94 1145.62 L273.44 1145.64 L274.93 1145.64 L276.43 1145.62 L277.92 1145.58 L279.41 1145.53 L280.9 1145.45 L282.38 1145.36 L283.87 1145.25 L285.36 1145.13 L286.84 1144.99 L288.33 1144.85 L289.81 1144.68 L291.29 1144.51 L292.78 1144.33 L294.26 1144.14 L295.74 1143.94 L297.23 1143.73 L298.71 1143.51 L300.2 1143.29 L301.68 1143.07 L303.17 1142.84 L304.66 1142.6 L306.14 1142.37 L307.63 1142.13 L309.12 1141.89 L310.61 1141.65 L312.11 1141.42 L313.6 1141.18 L315.09 1140.95 L316.59 1140.71 L318.09 1140.48 L319.59 1140.25 L321.08 1140.02 L322.58 1139.8 L324.09 1139.58 L325.59 1139.36 L327.09 1139.14 L328.59 1138.93 L330.1 1138.72 L331.6 1138.52 L333.1 1138.32 L334.61 1138.12 L336.11 1137.93 L337.62 1137.75 L339.13 1137.57 L340.63 1137.4 L342.14 1137.23 L343.64 1137.07 L345.15 1136.91 L346.66 1136.77 L348.16 1136.62 L349.67 1136.49 L351.17 1136.36 L352.68 1136.25 L354.18 1136.14 L355.69 1136.03 L357.19 1135.94 L358.7 1135.86 L360.2 1135.78 L361.7 1135.71 L363.2 1135.66 L364.7 1135.61 L366.2 1135.58 L367.7 1135.55 L369.2 1135.53 L370.7 1135.53 L372.2 1135.54 L373.69 1135.56 L375.19 1135.59 L376.68 1135.63 L378.17 1135.68 L379.66 1135.75 L381.15 1135.83 L382.64 1135.92 L384.12 1136.03 L385.61 1136.15 L387.09 1136.29 L388.57 1136.43 L390.05 1136.6 L391.53 1136.77 L393 1136.97 L394.48 1137.17 L395.95 1137.4 L397.42 1137.63 L398.89 1137.89 L400.35 1138.16 L401.82 1138.44 L403.28 1138.74 L404.74 1139.05 L406.19 1139.37 L407.65 1139.71 L409.1 1140.07 L410.55 1140.43 L412 1140.81 L413.44 1141.21 L414.89 1141.61 L416.33 1142.03 L417.76 1142.47 L419.2 1142.91 L420.63 1143.37 L422.06 1143.83 L423.49 1144.31 L424.91 1144.8 L426.33 1145.31 L427.75 1145.82 L429.17 1146.34 L430.58 1146.88 L431.99 1147.42 L433.4 1147.98 L434.8 1148.54 L436.2 1149.12 L437.6 1149.7 L438.99 1150.3 L440.39 1150.9 L441.77 1151.51 L443.16 1152.13 L444.54 1152.76 L445.92 1153.4 L447.29 1154.04 L448.67 1154.7 L450.03 1155.36 L451.4 1156.03 L452.76 1156.7 L454.12 1157.39 L455.47 1158.08 L456.82 1158.77 L458.17 1159.47 L459.51 1160.18 L460.85 1160.9 L462.19 1161.62 L463.52 1162.35 L464.85 1163.08 L466.17 1163.82 L467.49 1164.56 L468.81 1165.31 L470.12 1166.06 L471.43 1166.81 L472.73 1167.58 L474.03 1168.34 L475.33 1169.11 L476.62 1169.88 L477.91 1170.66 L479.2 1171.44 L480.48 1172.23 L481.76 1173.01 L483.03 1173.81 L484.31 1174.6 L485.58 1175.4 L486.84 1176.2 L488.11 1177.01 L489.37 1177.82 L490.63 1178.63 L491.89 1179.45 L493.14 1180.26 L494.39 1181.09 L495.64 1181.91 L496.89 1182.74 L498.13 1183.57 L499.38 1184.4 L500.62 1185.23 L501.86 1186.07 L503.09 1186.91 L504.33 1187.75 L505.56 1188.59 L506.8 1189.44 L508.03 1190.29 L509.26 1191.13 L510.49 1191.99 L511.72 1192.84 L512.94 1193.69 L514.17 1194.55 L515.4 1195.41 L516.62 1196.26 L517.84 1197.12 L519.07 1197.98 L520.29 1198.85 L521.51 1199.71 L522.74 1200.57 L523.96 1201.44 L525.18 1202.3 L526.4 1203.17 L527.63 1204.04 L528.85 1204.9 L530.07 1205.77 L531.29 1206.64 L532.52 1207.51 L533.74 1208.38 L534.97 1209.24 L536.19 1210.11 L537.42 1210.98 L538.65 1211.85 L539.88 1212.72 L541.11 1213.58 L542.34 1214.45 L543.57 1215.32 L544.8 1216.18 L546.04 1217.05 L547.27 1217.91 L548.51 1218.78 L549.75 1219.64 L550.99 1220.5 L552.24 1221.36 L553.48 1222.22 L554.73 1223.08 L555.98 1223.93 L557.23 1224.79 L558.49 1225.64 L559.75 1226.49 L561.01 1227.34 L562.27 1228.19 L563.54 1229.04 L564.8 1229.87 L566.08 1230.71 L567.35 1231.54 L568.63 1232.36 L569.92 1233.17 L571.21 1233.98 L572.5 1234.77 L573.8 1235.56 L575.1 1236.33 L576.41 1237.1 L577.73 1237.85 L579.05 1238.58 L580.38 1239.3 L581.71 1240.01 L583.05 1240.7 L584.4 1241.37 L585.75 1242.02 L587.11 1242.65 L588.48 1243.27 L589.86 1243.86 L591.24 1244.43 L592.64 1244.98 L594.04 1245.51 L595.45 1246.01 L596.87 1246.48 L598.3 1246.93 L599.74 1247.36 L601.18 1247.75 L602.64 1248.12 L604.11 1248.46 L605.59 1248.76 L607.08 1249.04 L608.57 1249.28 L610.08 1249.49 L611.59 1249.67 L613.1 1249.82 L614.62 1249.93 L616.14 1250.01 L617.66 1250.06 L619.18 1250.06 L620.69 1250.04 L622.21 1249.97 L623.71 1249.88 L625.22 1249.74 L626.71 1249.57 L628.19 1249.35 L629.66 1249.1 L631.13 1248.81 L632.57 1248.49 L634.01 1248.12 L635.42 1247.71 L636.82 1247.26 L638.2 1246.77 L639.57 1246.24 L640.92 1245.68 L642.25 1245.08 L643.56 1244.44 L644.86 1243.77 L646.15 1243.06 L647.41 1242.32 L648.66 1241.55 L649.9 1240.75 L651.12 1239.91 L652.32 1239.05 L653.51 1238.16 L654.68 1237.24 L655.84 1236.3 L656.98 1235.33 L658.11 1234.34 L659.22 1233.32 L660.32 1232.28 L661.4 1231.21 L662.47 1230.13 L663.52 1229.02 L664.56 1227.9 L665.59 1226.76 L666.6 1225.6 L667.6 1224.43 L668.58 1223.24 L669.55 1222.03 L670.5 1220.81 L671.45 1219.58 L672.37 1218.34 L673.29 1217.09 L674.19 1215.82 L675.08 1214.55 L675.96 1213.27 L676.82 1211.99 L677.67 1210.69 L678.51 1209.39 L679.33 1208.09 L680.15 1206.78 L680.95 1205.48 L681.74 1204.16 L682.52 1202.85 L683.28 1201.53 L684.04 1200.21 L684.78 1198.89 L685.51 1197.56 L686.23 1196.23 L686.95 1194.9 L687.65 1193.57 L688.34 1192.23 L689.02 1190.89 L689.7 1189.55 L690.36 1188.2 L691.02 1186.85 L691.66 1185.5 L692.3 1184.15 L692.93 1182.8 L693.55 1181.44 L694.17 1180.08 L694.77 1178.72 L695.37 1177.35 L695.96 1175.99 L696.55 1174.62 L697.13 1173.25 L697.7 1171.87 L698.27 1170.5 L698.83 1169.12 L699.38 1167.74 L699.93 1166.36 L700.47 1164.97 L701.01 1163.59 L701.55 1162.2 L702.08 1160.81 L702.6 1159.42 L703.12 1158.02 L703.64 1156.63 L704.16 1155.23 L704.67 1153.83 L705.17 1152.43 L705.68 1151.03 L706.18 1149.62 L706.68 1148.22 L707.18 1146.81 L707.68 1145.4 L708.17 1143.99 L708.66 1142.57 L709.15 1141.16 L709.64 1139.74 L710.13 1138.32 L710.62 1136.91 L711.11 1135.48 L711.59 1134.06 L712.08 1132.64 L712.56 1131.21 L713.05 1129.79 L713.53 1128.36 L714.01 1126.93 L714.48 1125.5 L714.96 1124.07 L715.43 1122.64 L715.91 1121.2 L716.38 1119.77 L716.85 1118.33 L717.31 1116.89 L717.78 1115.46 L718.24 1114.02 L718.7 1112.58 L719.16 1111.13 L719.61 1109.69 L720.07 1108.25 L720.52 1106.8 L720.97 1105.36 L721.41 1103.91 L721.86 1102.47 L722.3 1101.02 L722.73 1099.57 L723.17 1098.12 L723.6 1096.67 L724.03 1095.22 L724.45 1093.77 L724.88 1092.31 L725.3 1090.86 L725.71 1089.41 L726.12 1087.95 L726.53 1086.5 L726.94 1085.04 L727.34 1083.59 L727.74 1082.13 L728.13 1080.67 L728.52 1079.22 L728.91 1077.76 L729.29 1076.3 L729.67 1074.84 L730.05 1073.38 L730.42 1071.92 L730.78 1070.46 L731.15 1069 L731.5 1067.55 L731.86 1066.08 L732.21 1064.62 L732.55 1063.16 L732.89 1061.7 L733.23 1060.24 L733.56 1058.78 L733.88 1057.32 L734.2 1055.86 L734.52 1054.4 L734.83 1052.94 L735.13 1051.48 L735.43 1050.02 L735.73 1048.56 L736.02 1047.1 L736.3 1045.63" fill="none" stroke="#a9a9a9" stroke-width="3.5" stroke-linecap="round" stroke-linejoin="round"/>
<path d="M229 1117.5 C227.02 1115.88 220.83 1111.17 217.1 1107.8 C213.37 1104.43 209.85 1100.8 206.6 1097.3 C203.35 1093.8 200.35 1090.03 197.6 1086.8 C194.85 1083.57 191.67 1080.03 190.1 1077.9 C188.53 1075.77 188.52 1074.65 188.2 1074" fill="none" stroke="#a020f0" stroke-width="3.6" stroke-linecap="round"/>
<path d="M196.1 1077.9 L187.9 1073.4 L187.9 1082.4" fill="none" stroke="#a020f0" stroke-width="3.6" stroke-linecap="round" stroke-linejoin="round"/>
<path d="M263.5 1129.9 C266.23 1129.98 274.67 1130.52 279.9 1130.4 C285.13 1130.28 289.92 1129.77 294.9 1129.2 C299.88 1128.63 304.82 1127.75 309.8 1127 C314.78 1126.25 319.8 1125.45 324.8 1124.7 C329.8 1123.95 334.82 1123.2 339.8 1122.5 C344.78 1121.8 349.72 1121 354.7 1120.5 C359.68 1120 363.57 1119.43 369.7 1119.5 C375.83 1119.57 387.87 1120.67 391.5 1120.9" fill="none" stroke="#a020f0" stroke-width="3.6" stroke-linecap="round"/>
<path d="M383.1 1115.7 L392.1 1121 L383.1 1125.5" fill="none" stroke="#a020f0" stroke-width="3.6" stroke-linecap="round" stroke-linejoin="round"/>
<circle cx="247.3" cy="1119.2" r="19.1" fill="#a020f0"/>
<path d="M484.7 1213.5 C487.2 1213.7 494.72 1214.12 499.7 1214.7 C504.68 1215.28 509.62 1216 514.6 1217 C519.58 1218 524.62 1219.22 529.6 1220.7 C534.58 1222.18 539.43 1223.82 544.5 1225.9 C549.57 1227.98 554.92 1230.73 560 1233.2 C565.08 1235.67 570.02 1237.95 575 1240.7 C579.98 1243.45 584.92 1246.33 589.9 1249.7 C594.88 1253.07 599.92 1257.17 604.9 1260.9 C609.88 1264.63 615.28 1268.53 619.8 1272.1 C624.32 1275.67 628.13 1278.95 632 1282.3 C635.87 1285.65 641.17 1290.55 643 1292.2" fill="none" stroke="#0000ff" stroke-width="3.6" stroke-linecap="round"/>
<path d="M639.6 1282.9 L643.4 1292.6 L632.2 1290.4" fill="none" stroke="#0000ff" stroke-width="3.6" stroke-linecap="round" stroke-linejoin="round"/>
<circle cx="466.1" cy="1213.5" r="18.9" fill="#0000ff"/>
<line x1="957.2" y1="759.5" x2="957.2" y2="1348.7" stroke="#000" stroke-width="2"/>
<line x1="943.8" y1="757" x2="957.2" y2="757" stroke="#000" stroke-width="2" stroke-linecap="round"/>
<line x1="943.8" y1="843.6" x2="957.2" y2="843.6" stroke="#000" stroke-width="2" stroke-linecap="round"/>
<line x1="943.8" y1="927.4" x2="957.2" y2="927.4" stroke="#000" stroke-width="2" stroke-linecap="round"/>
<line x1="943.8" y1="1012" x2="957.2" y2="1012" stroke="#000" stroke-width="2" stroke-linecap="round"/>
<line x1="943.8" y1="1096.2" x2="957.2" y2="1096.2" stroke="#000" stroke-width="2" stroke-linecap="round"/>
<line x1="943.8" y1="1180.6" x2="957.2" y2="1180.6" stroke="#000" stroke-width="2" stroke-linecap="round"/>
<line x1="943.8" y1="1264.6" x2="957.2" y2="1264.6" stroke="#000" stroke-width="2" stroke-linecap="round"/>
<line x1="943.8" y1="1348.7" x2="957.2" y2="1348.7" stroke="#000" stroke-width="2" stroke-linecap="round"/>
<line x1="969" y1="1375.7" x2="1313.6" y2="1375.7" stroke="#000" stroke-width="2"/>
<line x1="969" y1="1375.7" x2="969" y2="1393" stroke="#000" stroke-width="2"/>
<line x1="1055.15" y1="1375.7" x2="1055.15" y2="1393" stroke="#000" stroke-width="2"/>
<line x1="1141.3" y1="1375.7" x2="1141.3" y2="1393" stroke="#000" stroke-width="2"/>
<line x1="1227.45" y1="1375.7" x2="1227.45" y2="1393" stroke="#000" stroke-width="2"/>
<line x1="1313.6" y1="1375.7" x2="1313.6" y2="1393" stroke="#000" stroke-width="2"/>
<text x="1140.5" y="1423.5" font-size="28.5" fill="#000" text-anchor="middle" >Time</text>
<text x="0" y="0" font-size="28.6" fill="#000" text-anchor="middle" transform="translate(930.5 1050.5) rotate(-90)">ICEV Sales Share</text>
<path d="M1038.4 797 L1041.2 818.6 L1043 796.2 L1044.8 807.8 L1047.1 797.1 L1048.4 804.2 L1050.6 802.9 L1055.1 822.6 L1056.9 807.4 L1059.2 811.4 L1061 829.8 L1063.7 826.2 L1066.8 813.2 L1069.5 816.3 L1072.6 800.2 L1076.2 813.2 L1077.1 826.7 L1079.8 827.6 L1081.2 817.7 L1084.3 841.9 L1086.4 815.9 L1088.8 834.7 L1091.5 823.1 L1093.7 831.2 L1094.8 819.5 L1098.2 840.1 L1100 831.6 L1102.2 841.5 L1106.7 817.7 L1108.5 855.4 L1110.8 853.6 L1112.1 826.7 L1115.3 846.4 L1118.4 858.1 L1122.4 841.5 L1124.2 856.3 L1126.5 850 L1129.2 853.1 L1131.9 868.9 L1134.6 842.4 L1136.8 854.5 L1140.4 856" fill="none" stroke="#bebebe" stroke-width="3.6" stroke-linejoin="round" stroke-linecap="round"/>
<path d="M1210.6 935.7 L1212.6 935.2 L1215.1 949.5 L1217.2 930.9 L1220.2 943.6 L1222.3 934.7 L1224.4 938.5 L1228.1 957 L1229.8 952.4 L1232.4 967.1 L1234 953.7 L1238.2 957 L1239.5 965.5 L1241.6 967.1 L1243.7 994.1 L1246.2 999.1 L1249.2 1006.3 L1253 979.8 L1255.1 984 L1256.8 1002.5 L1260.6 1008.6" fill="none" stroke="#bebebe" stroke-width="3.6" stroke-linejoin="round" stroke-linecap="round"/>
<path d="M970.5 759.3 L972.8 758 L974.1 766 L975.9 766.9 L977.7 751.7 L979.5 769.6 L981.3 762.4 L983.1 764.2 L984.9 765.1 L986.2 772.8 L988 769.6 L989.8 759.3 L992.1 779.5 L993.9 780.4 L995.2 768.7 L997.9 784.9 L1000.1 767.8 L1001.9 784.9 L1004.6 779.5 L1006.9 776.3 L1008.7 786.2 L1011.4 762.4 L1014 760.2 L1015.4 790.7 L1017.2 785.8 L1019 801.5 L1022.6 771 L1025.7 796.1 L1028.9 788.5 L1031.1 781.3 L1033.3 785.8 L1035.1 785.8 L1036.3 801.9 L1038.4 797" fill="none" stroke="#ff0000" stroke-width="3.6" stroke-linejoin="round" stroke-linecap="round"/>
<path d="M1140.4 856 L1142.2 866.1 L1143.5 859.4 L1145 852.6 L1146.4 866.9 L1146 877.9 L1148.1 871.1 L1151.5 891.3 L1156.9 872 L1159 878.7 L1160.7 879.1 L1163.7 899.8 L1164.5 886.3 L1169.1 880.4 L1171.2 882.1 L1172.9 902.3 L1175.9 904.8 L1177.1 900.2 L1180.5 909 L1184.7 885.5 L1186.4 887.1 L1190.6 911.5 L1191.9 932.6 L1196.5 951.1 L1199.4 932.6 L1201.5 932.6 L1204.9 916.6 L1207.4 920 L1208.7 933.4 L1210.6 935.7" fill="none" stroke="#a020f0" stroke-width="3.6" stroke-linejoin="round" stroke-linecap="round"/>
<path d="M1260.6 1008.6 L1263.1 1016.8 L1264.8 1008.4 L1267.3 1005.9 L1268.6 1027.7 L1271.9 1010.5 L1273.6 1029.8 L1276.1 1018.1 L1278.2 1028.6 L1281.2 1032 L1283.5 1052.8 L1286 1049.7 L1290.4 1087.5 L1292.9 1089.4 L1294.8 1098.3 L1297.3 1117.2 L1299.2 1150 L1301.8 1156.4 L1303.7 1174 L1304.4 1190 L1306 1211.5 L1308.3 1221 L1310.1 1249.7 L1311.3 1279.5 L1312.5 1309.4 L1313.7 1351.8" fill="none" stroke="#0000ff" stroke-width="3.6" stroke-linejoin="round" stroke-linecap="round"/>
</svg>
</body></html>
